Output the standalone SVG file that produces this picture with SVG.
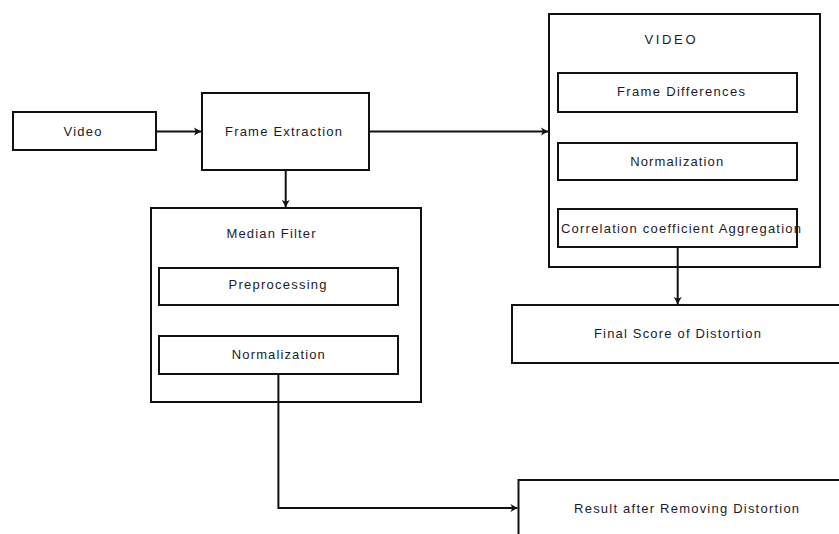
<svg xmlns="http://www.w3.org/2000/svg" width="839" height="534" viewBox="0 0 839 534">
<style>
.box{fill:#fff;stroke:#111;stroke-width:2}
.t{font-family:"Liberation Sans",Arial,sans-serif;font-size:13px;fill:#1c1c2a;text-anchor:middle}
.c{fill:none;stroke:#111;stroke-width:2}
</style>
<defs>
<marker id="ah" markerWidth="9" markerHeight="9" refX="8" refY="4.5" orient="auto" markerUnits="userSpaceOnUse">
<path d="M1,0.5 L8,4.5 L1,8.5 L2.8,4.5 Z" fill="#111"/>
</marker>
</defs>
<rect width="839" height="534" fill="#fff"/>
<g id="video">
<rect class="box" x="13" y="112" width="143" height="38"/>
<text class="t" x="82.5" y="135.5" textLength="38" lengthAdjust="spacing">Video</text>
</g>
<g id="frame-extraction">
<rect class="box" x="202" y="93" width="167" height="77"/>
<text class="t" x="283.5" y="135.5" textLength="117" lengthAdjust="spacing">Frame Extraction</text>
</g>
<g id="video-group">
<rect class="box" x="549" y="14" width="271" height="253"/>
<text class="t" x="670" y="44" textLength="51" lengthAdjust="spacing">VIDEO</text>
</g>
<g id="frame-differences">
<rect class="box" x="558" y="73" width="239" height="39"/>
<text class="t" x="681" y="96" textLength="128" lengthAdjust="spacing">Frame Differences</text>
</g>
<g id="normalization-right">
<rect class="box" x="558" y="143" width="239" height="37"/>
<text class="t" x="676.7" y="166" textLength="93" lengthAdjust="spacing">Normalization</text>
</g>
<g id="correlation">
<rect class="box" x="558" y="209" width="239" height="38"/>
<text class="t" x="681" y="233" textLength="240" lengthAdjust="spacing">Correlation coefficient Aggregation</text>
</g>
<g id="median-filter">
<rect class="box" x="151" y="208" width="270" height="194"/>
<text class="t" x="271" y="237.5" textLength="89" lengthAdjust="spacing">Median Filter</text>
</g>
<g id="preprocessing">
<rect class="box" x="159" y="268" width="239" height="37"/>
<text class="t" x="277.5" y="289" textLength="98" lengthAdjust="spacing">Preprocessing</text>
</g>
<g id="normalization-left">
<rect class="box" x="159" y="336" width="239" height="38"/>
<text class="t" x="278.3" y="359" textLength="93" lengthAdjust="spacing">Normalization</text>
</g>
<g id="final-score">
<rect class="box" x="512" y="305" width="340" height="58"/>
<text class="t" x="677.5" y="338" textLength="167" lengthAdjust="spacing">Final Score of Distortion</text>
</g>
<g id="result">
<rect class="box" x="518.5" y="480" width="340" height="70"/>
<text class="t" x="686.6" y="512.5" textLength="225" lengthAdjust="spacing">Result after Removing Distortion</text>
</g>
<g id="connectors">
<line class="c" x1="156" y1="131.5" x2="201" y2="131.5" marker-end="url(#ah)"/>
<line class="c" x1="369" y1="131.5" x2="548" y2="131.5" marker-end="url(#ah)"/>
<line class="c" x1="285.7" y1="170" x2="285.7" y2="207" marker-end="url(#ah)"/>
<line class="c" x1="677.7" y1="247" x2="677.7" y2="304" marker-end="url(#ah)"/>
<polyline class="c" points="278.4,374 278.4,508 517.5,508" marker-end="url(#ah)"/>
</g>
</svg>
